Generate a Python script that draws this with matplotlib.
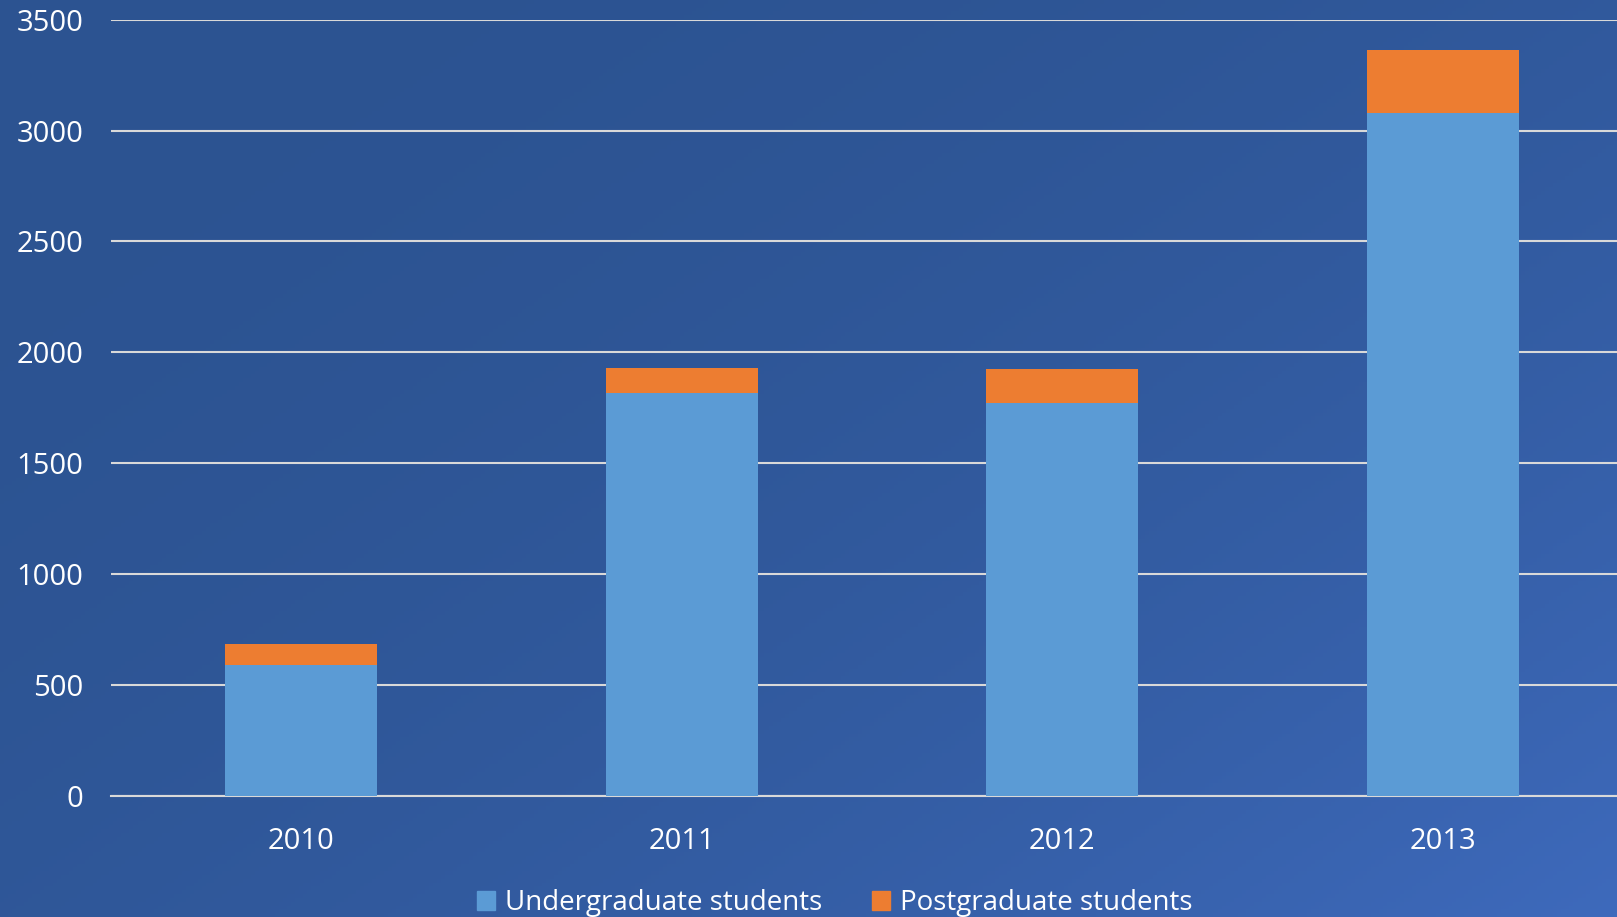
import numpy as np
import matplotlib.pyplot as plt
from matplotlib.patches import Patch

years = ["2010", "2011", "2012", "2013"]
undergrad = [590, 1815, 1773, 3078]
postgrad = [95, 113, 151, 285]
yticks = [0, 500, 1000, 1500, 2000, 2500, 3000, 3500]

blue = "#5b9bd5"
orange = "#ed7d31"
grid_col = "#d9d9d9"

plt.rcParams["font.family"] = ["Open Sans", "DejaVu Sans"]

fig = plt.figure(figsize=(16.17, 9.17), dpi=100)

# background gradient, darker top-left to lighter bottom-right
bg = fig.add_axes([0, 0, 1, 1], zorder=-10)
xx, yy = np.meshgrid(np.linspace(0, 1, 400), np.linspace(0, 1, 240))
t = np.clip(0.55 * xx + 0.45 * yy, 0, 1) ** 2.2
c0 = np.array([44, 83, 145]) / 255
c1 = np.array([62, 106, 188]) / 255
img = c0[None, None, :] * (1 - t[..., None]) + c1[None, None, :] * t[..., None]
bg.imshow(img, aspect="auto", extent=[0, 1, 0, 1], origin="upper")
bg.axis("off")

ax = fig.add_axes([111 / 1617, 121 / 917, (1633 - 111) / 1617, (796 - 19.6) / 917])
ax.patch.set_alpha(0)

x = np.arange(len(years))
ax.bar(x, undergrad, width=0.4, color=blue, zorder=3)
ax.bar(x, postgrad, width=0.4, bottom=undergrad, color=orange, zorder=3)

ax.set_xlim(-0.5, len(years) - 0.5)
ax.set_ylim(0, 3500)
ax.set_yticks(yticks)
ax.set_xticks(x)
ax.set_xticklabels(years)
ax.yaxis.grid(True, color=grid_col, linewidth=1.5, zorder=0)
ax.set_axisbelow(True)
for s in ["top", "right", "left"]:
    ax.spines[s].set_visible(False)
ax.spines["bottom"].set_color(grid_col)
ax.spines["bottom"].set_linewidth(1.5)
ax.tick_params(axis="both", length=0, colors="white", labelsize=21)
ax.tick_params(axis="y", pad=20)
ax.tick_params(axis="x", pad=22)

handles = [Patch(color=blue, label="Undergraduate students"),
           Patch(color=orange, label="Postgraduate students")]
fig.legend(handles=handles, loc="center", bbox_to_anchor=(835 / 1617, 1 - 903 / 917),
           ncol=2, frameon=False, fontsize=20, labelcolor="white",
           handlelength=0.65, handleheight=0.65, handletextpad=0.35, columnspacing=1.8)

fig.savefig("out.png", dpi=100)
